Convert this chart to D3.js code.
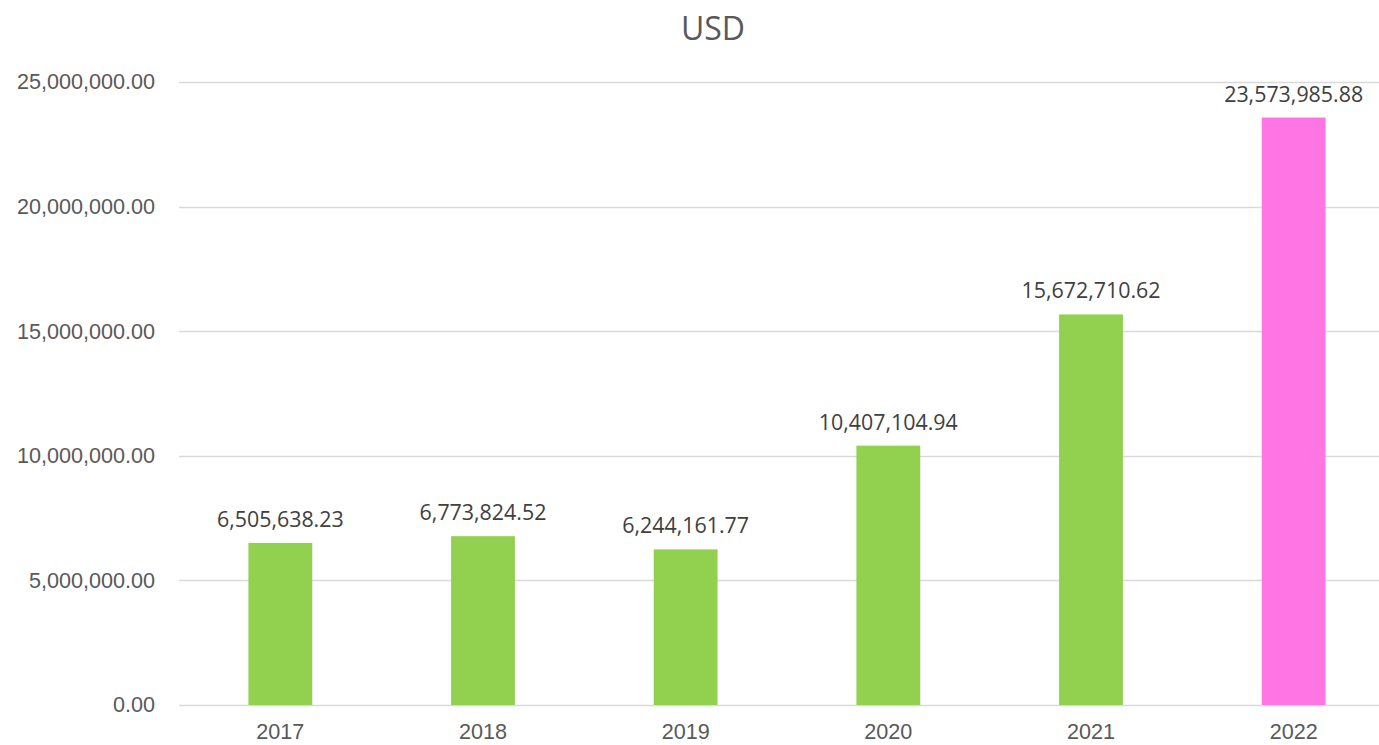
<!DOCTYPE html>
<html>
<head>
<meta charset="utf-8">
<script src="https://cdn.jsdelivr.net/npm/d3@7"></script>
<style>
  body { margin: 0; background: #fff; }
  svg { display: block; font-family: "Open Sans", "Noto Sans", sans-serif; }
</style>
</head>
<body>
<div id="chart"></div>
<script>
// Data
const years = ["2017", "2018", "2019", "2020", "2021", "2022"];
const usdValues = [6505638.23, 6773824.52, 6244161.77, 10407104.94, 15672710.62, 23573985.88];
const yTicks = [0, 5000000, 10000000, 15000000, 20000000, 25000000];
const highlightYear = "2022";

const width = 1379;
const height = 745;
const plotLeft = 179, plotRight = 1395;
const plotTop = 82, plotBottom = 705;

const svg = d3.select('#chart')
    .append('svg')
    .attr('width', width)
    .attr('height', height);

const x = d3.scaleBand()
    .domain(years)
    .range([plotLeft, plotRight])
    .paddingInner(0.685)
    .paddingOuter(0.3425);

const y = d3.scaleLinear()
    .domain([0, 25000000])
    .range([plotBottom, plotTop]);

const fmt = d3.format(",.2f");

// Gridlines
svg.append('g')
    .selectAll('line')
    .data(yTicks)
    .enter()
    .append('line')
    .attr('x1', plotLeft)
    .attr('x2', plotRight)
    .attr('y1', d => Math.round(y(d)) + 0.5)
    .attr('y2', d => Math.round(y(d)) + 0.5)
    .attr('stroke', '#d9d9d9')
    .attr('stroke-width', 1.3);

// Y axis labels
const yAxis = d3.axisLeft(y)
    .tickValues(yTicks)
    .tickFormat(fmt)
    .tickSize(0)
    .tickPadding(0);

svg.append('g')
    .attr('transform', `translate(155,0)`)
    .call(yAxis)
    .call(g => g.select('.domain').remove())
    .selectAll('text')
    .attr('fill', '#595959')
    .attr('font-size', '21.6px');

// Bars
svg.append('g')
    .selectAll('rect')
    .data(years)
    .enter()
    .append('rect')
    .attr('x', d => x(d))
    .attr('width', x.bandwidth())
    .attr('y', (d, i) => y(usdValues[i]))
    .attr('height', (d, i) => y(0) - y(usdValues[i]))
    .attr('fill', d => d === highlightYear ? '#ff75e3' : '#92d050');

// Data labels
svg.append('g')
    .selectAll('text')
    .data(years)
    .enter()
    .append('text')
    .attr('x', d => x(d) + x.bandwidth() / 2)
    .attr('y', (d, i) => y(usdValues[i]) - 16)
    .attr('text-anchor', 'middle')
    .attr('fill', '#404040')
    .attr('font-size', '21.4px')
    .text((d, i) => fmt(usdValues[i]));

// X axis labels (sit right at the bottom edge, as in the original)
const xAxis = d3.axisBottom(x).tickSize(0).tickPadding(0);
svg.append('g')
    .attr('transform', `translate(0,${plotBottom + 19})`)
    .call(xAxis)
    .call(g => g.select('.domain').remove())
    .selectAll('text')
    .attr('fill', '#595959')
    .attr('font-size', '21.6px');

// Title
svg.append('text')
    .attr('x', 713)
    .attr('y', 40)
    .attr('text-anchor', 'middle')
    .attr('fill', '#595959')
    .attr('font-size', '32px')
    .text('USD');
</script>
</body>
</html>
